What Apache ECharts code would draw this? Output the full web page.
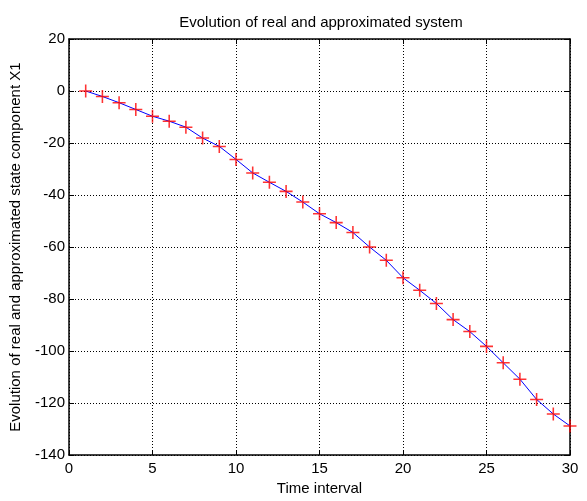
<!DOCTYPE html>
<html>
<head>
<meta charset="utf-8">
<script src="https://cdn.jsdelivr.net/npm/echarts@6/dist/echarts.min.js"></script>
<style>
  html, body { margin: 0; padding: 0; background: #fff; }
  #chart { width: 587px; height: 501px; }
</style>
</head>
<body>
<div id="chart"></div>
<script>
// time steps and state component values
var timeSteps = [1, 2, 3, 4, 5, 6, 7, 8, 9, 10, 11, 12, 13, 14, 15,
                 16, 17, 18, 19, 20, 21, 22, 23, 24, 25, 26, 27, 28, 29, 30];
var stateX1 = [0, -2.1, -4.5, -7.1, -9.7, -11.6, -13.9, -18.1, -21.3, -26.3,
               -31.5, -35.1, -38.6, -42.7, -47.2, -50.6, -54.4, -60, -65.1, -71.8,
               -76.6, -81.7, -87.9, -92.5, -98.2, -104.5, -110.8, -118.6, -124.2, -128.8];
var xTicks = [0, 5, 10, 15, 20, 25, 30];
var yTicks = [-140, -120, -100, -80, -60, -40, -20, 0, 20];

var pts = timeSteps.map(function (t, i) { return [t, stateX1[i]]; });

var font = 'Liberation Sans, Arial, sans-serif';
var chart = echarts.init(document.getElementById('chart'));

var gridLine = { show: true, lineStyle: { color: '#000', type: [1, 2], width: 1 } };
var frameLine = { show: true, onZero: false, lineStyle: { color: '#000', width: 1.5 } };
var inTick = { show: true, inside: true, length: 5, lineStyle: { color: '#000' } };
var labelStyle = { fontFamily: font, fontSize: 15, color: '#000' };

var option = {
    backgroundColor: '#fff',
    animation: false,
    title: {
        text: 'Evolution of real and approximated system',
        left: 316, top: 10, textAlign: 'center',
        textStyle: { fontFamily: font, fontSize: 15, fontWeight: 'normal', color: '#000' }
    },
    grid: { left: 66, right: 17, top: 39, bottom: 41 },
    xAxis: [
        {
            type: 'value', min: xTicks[0], max: xTicks[xTicks.length - 1], interval: 5,
            name: 'Time interval', nameLocation: 'middle', nameGap: 23,
            nameTextStyle: labelStyle,
            axisLine: frameLine, axisTick: inTick,
            axisLabel: Object.assign({ margin: 6 }, labelStyle),
            splitLine: gridLine
        },
        {
            type: 'value', position: 'top', min: xTicks[0], max: xTicks[xTicks.length - 1], interval: 5,
            axisLine: frameLine, axisTick: inTick,
            axisLabel: { show: false }, splitLine: { show: false }
        }
    ],
    yAxis: [
        {
            type: 'value', min: yTicks[0], max: yTicks[yTicks.length - 1], interval: 20,
            name: 'Evolution of real and approximated state component X1',
            nameLocation: 'middle', nameGap: 46,
            nameTextStyle: labelStyle,
            axisLine: frameLine, axisTick: inTick,
            axisLabel: Object.assign({ margin: 4 }, labelStyle),
            splitLine: gridLine
        },
        {
            type: 'value', position: 'right', min: yTicks[0], max: yTicks[yTicks.length - 1], interval: 20,
            axisLine: frameLine, axisTick: inTick,
            axisLabel: { show: false }, splitLine: { show: false }
        }
    ],
    series: [
        {
            type: 'line',
            data: pts,
            showSymbol: false,
            lineStyle: { color: '#0000ff', width: 1 },
            z: 2
        },
        {
            type: 'scatter',
            data: pts,
            symbol: 'path://M4.4,0h1.2v4.4h4.4v1.2h-4.4v4.4h-1.2v-4.4h-4.4v-1.2h4.4z',
            symbolSize: 13,
            itemStyle: { color: '#ff0000' },
            z: 3
        }
    ]
};

chart.setOption(option);
</script>
</body>
</html>
